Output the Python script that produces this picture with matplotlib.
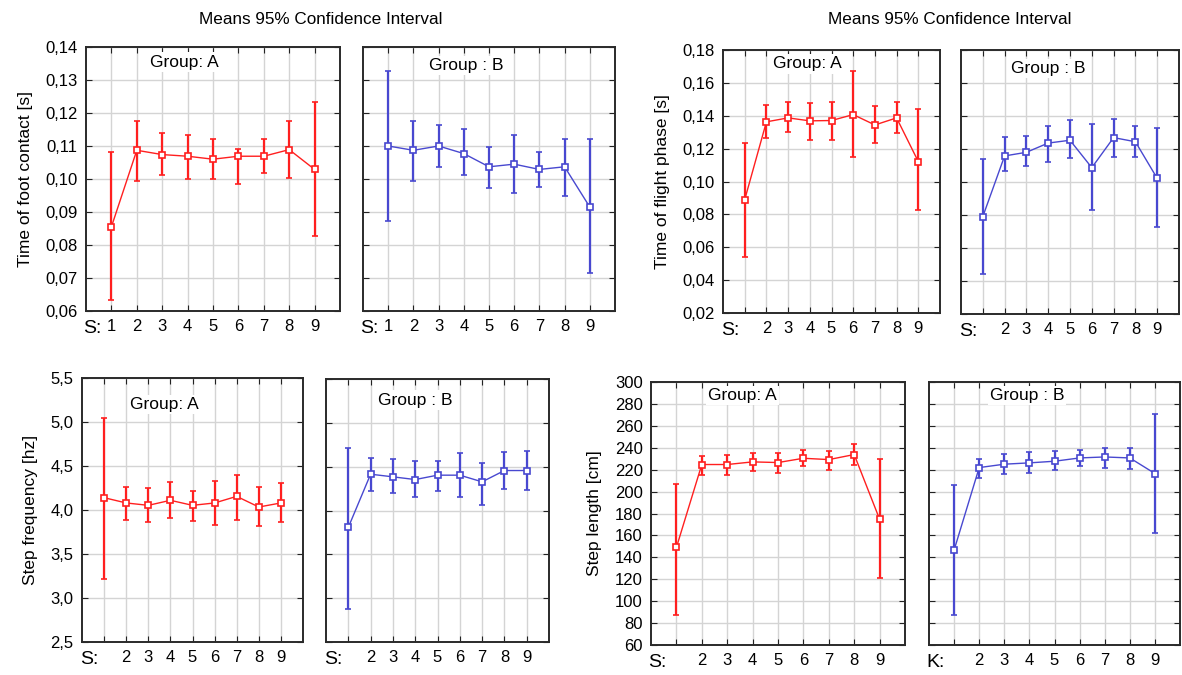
import numpy as np
import matplotlib.pyplot as plt
from matplotlib.ticker import FuncFormatter

plt.rcParams['font.family'] = ['Liberation Sans', 'DejaVu Sans']

steps = [1, 2, 3, 4, 5, 6, 7, 8, 9]

# time of foot contact [s]
contact_a_mean = [0.0855, 0.1087, 0.1074, 0.1069, 0.1060, 0.1069, 0.1069, 0.1089, 0.1029]
contact_a_lo = [0.0633, 0.0994, 0.1011, 0.0999, 0.0999, 0.0984, 0.1017, 0.1003, 0.0827]
contact_a_hi = [0.1082, 0.1176, 0.1138, 0.1133, 0.1122, 0.1090, 0.1122, 0.1176, 0.1234]
contact_b_mean = [0.1100, 0.1087, 0.1100, 0.1077, 0.1037, 0.1045, 0.1029, 0.1037, 0.0915]
contact_b_lo = [0.0872, 0.0994, 0.1036, 0.1011, 0.0972, 0.0959, 0.0976, 0.0948, 0.0714]
contact_b_hi = [0.1328, 0.1177, 0.1165, 0.1150, 0.1097, 0.1133, 0.1081, 0.1122, 0.1122]

# time of flight phase [s]
flight_a_mean = [0.0889, 0.1363, 0.1387, 0.1369, 0.1371, 0.1407, 0.1344, 0.1387, 0.1121]
flight_a_lo = [0.0540, 0.1263, 0.1300, 0.1253, 0.1253, 0.1152, 0.1237, 0.1294, 0.0824]
flight_a_hi = [0.1237, 0.1466, 0.1484, 0.1476, 0.1484, 0.1674, 0.1460, 0.1484, 0.1439]
flight_b_mean = [0.0790, 0.1158, 0.1180, 0.1236, 0.1253, 0.1087, 0.1269, 0.1244, 0.1022]
flight_b_lo = [0.0442, 0.1065, 0.1097, 0.1123, 0.1147, 0.0830, 0.1154, 0.1154, 0.0725]
flight_b_hi = [0.1137, 0.1271, 0.1279, 0.1341, 0.1376, 0.1350, 0.1382, 0.1341, 0.1325]

# step frequency [hz]
freq_a_mean = [4.14, 4.08, 4.053, 4.11, 4.053, 4.08, 4.155, 4.034, 4.08]
freq_a_lo = [3.216, 3.89, 3.867, 3.909, 3.879, 3.833, 3.89, 3.822, 3.86]
freq_a_hi = [5.045, 4.261, 4.25, 4.318, 4.216, 4.333, 4.394, 4.261, 4.307]
freq_b_mean = [3.807, 4.414, 4.384, 4.353, 4.403, 4.403, 4.327, 4.456, 4.456]
freq_b_lo = [2.877, 4.224, 4.198, 4.156, 4.228, 4.156, 4.065, 4.243, 4.236]
freq_b_hi = [4.718, 4.60, 4.585, 4.566, 4.566, 4.653, 4.547, 4.672, 4.684]

# step length [cm]
length_a_mean = [149.0, 224.7, 224.7, 227.1, 226.5, 230.4, 229.2, 233.8, 174.8]
length_a_lo = [87.3, 215.0, 215.0, 218.6, 217.1, 223.1, 219.5, 224.0, 120.8]
length_a_hi = [207.3, 232.2, 233.8, 235.6, 235.6, 238.3, 237.1, 243.2, 229.8]
length_b_mean = [146.6, 221.9, 225.0, 226.2, 227.7, 230.7, 231.6, 230.7, 216.5]
length_b_lo = [87.3, 212.5, 215.8, 217.1, 219.5, 223.1, 221.9, 221.0, 161.8]
length_b_hi = [206.4, 230.1, 234.7, 236.2, 237.1, 238.3, 239.5, 239.5, 271.1]

RED = '#ff1f1f'
BLUE = '#4848d0'

W, H = 1182, 675
fig = plt.figure(figsize=(W / 100, H / 100), dpi=100)


def panel(rect, mean, lo, hi, color, ylim, ystep, ndec, group, gpos,
          xlab='S:', show_one=False, ylabel=None):
    l, t, r, b = rect
    ax = fig.add_axes([l / W, 1 - b / H, (r - l) / W, (b - t) / H])
    mean = np.array(mean)
    yerr = [mean - np.array(lo), np.array(hi) - mean]
    ax.errorbar(steps, mean, yerr=yerr, color=color, lw=1.0, elinewidth=1.6,
                capsize=2.5, capthick=1.0, marker='s', ms=4.5, mfc='white',
                mec=color, mew=1.2, zorder=3)
    ax.set_xlim(0, 10)
    ax.set_ylim(*ylim)
    ax.set_xticks(steps)
    ax.set_xticklabels([('1' if show_one else '')] + [str(s) for s in steps[1:]])
    ax.set_yticks(np.arange(ylim[0], ylim[1] + ystep / 2, ystep))
    if ylabel:
        ax.yaxis.set_major_formatter(FuncFormatter(
            lambda v, p: ('%.*f' % (ndec, v)).replace('.', ',')))
        ax.set_ylabel(ylabel, fontsize=12.5, labelpad=9)
    else:
        ax.set_yticklabels([])
    ax.grid(True, color='#d4d4d4', lw=1.0)
    ax.set_axisbelow(True)
    ax.tick_params(direction='in', length=4, top=True, right=True,
                   color='#222222', labelsize=12, pad=6)
    for s in ax.spines.values():
        s.set_color('#2a2a2a')
        s.set_linewidth(1.4)
    ax.text(-0.01, -0.035, xlab, transform=ax.transAxes, fontsize=14,
            ha='left', va='top')
    ax.text(gpos[0], gpos[1], group, transform=ax.transAxes, fontsize=12.5,
            ha='center', va='center', zorder=4,
            bbox=dict(facecolor='white', edgecolor='none', pad=1.5))
    return ax


panel((86, 47, 340, 311), contact_a_mean, contact_a_lo, contact_a_hi, RED,
      (0.06, 0.14), 0.01, 2, 'Group: A', (0.386, 0.943), show_one=True,
      ylabel='Time of foot contact [s]')
panel((363, 47, 615, 311), contact_b_mean, contact_b_lo, contact_b_hi, BLUE,
      (0.06, 0.14), 0.01, 2, 'Group : B', (0.41, 0.93), show_one=True)

panel((723, 50, 940, 313), flight_a_mean, flight_a_lo, flight_a_hi, RED,
      (0.02, 0.18), 0.02, 2, 'Group: A', (0.39, 0.947),
      ylabel='Time of flight phase [s]')
panel((961, 50, 1179, 314), flight_b_mean, flight_b_lo, flight_b_hi, BLUE,
      (0.02, 0.18), 0.02, 2, 'Group : B', (0.40, 0.93))

panel((82, 378, 303, 642), freq_a_mean, freq_a_lo, freq_a_hi, RED,
      (2.5, 5.5), 0.5, 1, 'Group: A', (0.375, 0.90),
      ylabel='Step frequency [hz]')
panel((326, 379, 549, 642), freq_b_mean, freq_b_lo, freq_b_hi, BLUE,
      (2.5, 5.5), 0.5, 1, 'Group : B', (0.40, 0.92))

panel((651, 382, 905, 645), length_a_mean, length_a_lo, length_a_hi, RED,
      (60, 300), 20, 0, 'Group: A', (0.36, 0.95),
      ylabel='Step length [cm]')
panel((929, 382, 1180, 645), length_b_mean, length_b_lo, length_b_hi, BLUE,
      (60, 300), 20, 0, 'Group : B', (0.39, 0.95), xlab='K:')

fig.text(321 / W, 1 - 19 / H, 'Means 95% Confidence Interval', fontsize=12.3,
         ha='center', va='center')
fig.text(950 / W, 1 - 19 / H, 'Means 95% Confidence Interval', fontsize=12.3,
         ha='center', va='center')

fig.savefig('out.png', dpi=100)
